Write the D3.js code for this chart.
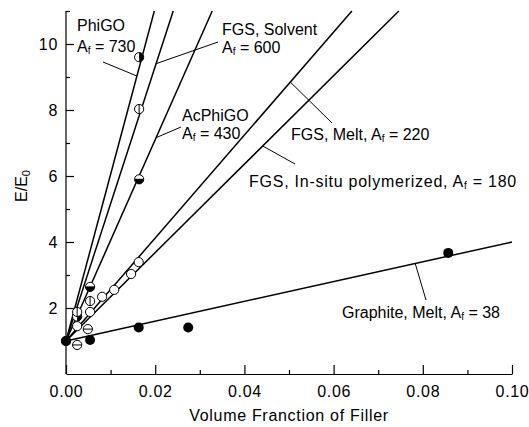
<!DOCTYPE html>
<html>
<head>
<meta charset="utf-8">
<script src="https://cdn.jsdelivr.net/npm/d3@7"></script>
<style>
  html, body { margin: 0; padding: 0; background: #fff; }
  svg { display: block; font-family: "Liberation Sans", Arial, Helvetica, sans-serif; }
  text { fill: #000; }
</style>
</head>
<body>
<svg id="chart" width="529" height="427"></svg>
<script>
// ---- data ----
const seriesNames = ["PhiGO", "FGS, Solvent", "AcPhiGO", "FGS, Melt", "FGS, In-situ polymerized", "Graphite, Melt"];
const slopes = [505, 416, 305, 156, 134, 30];           // E/E0 = 1 + slope * phi
const afValues = [730, 600, 430, 220, 180, 38];
const markerStyles = ["halfRight", "vline", "halfBottom", "open", "hline", "filled"];

const phiGOPts      = [[0.0025, 1.74], [0.0164, 9.6]];
const solventPts    = [[0.0025, 1.88], [0.0054, 2.21], [0.0164, 8.03]];
const acPhiGOPts    = [[0.0054, 2.64], [0.0164, 5.9]];
const meltPts       = [[0, 1], [0.0025, 1.45], [0.0054, 1.88], [0.0081, 2.34], [0.0108, 2.55], [0.0146, 3.03], [0.0163, 3.39]];
const inSituPts     = [[0.0025, 0.88], [0.0049, 1.36]];
const graphitePts   = [[0, 1], [0.0054, 1.03], [0.0163, 1.41], [0.0274, 1.41], [0.0857, 3.67]];
const pointSets = [phiGOPts, solventPts, acPhiGOPts, meltPts, inSituPts, graphitePts];

const xTicks = [0, 0.02, 0.04, 0.06, 0.08, 0.10];
const xMinor = [0.01, 0.03, 0.05, 0.07, 0.09];
const yTicks = [2, 4, 6, 8, 10];
const yMinor = [1, 3, 5, 7, 9, 11];

// ---- layout ----
const svg = d3.select("#chart");
const x = d3.scaleLinear().domain([0, 0.10]).range([66, 512]);
const y = d3.scaleLinear().domain([0, 11]).range([374, 11]);
const FS = 16;

// ---- axes ----
const gx = svg.append("g").attr("transform", `translate(0,${y(0)})`);
gx.call(d3.axisBottom(x).tickValues(xTicks).tickSizeInner(-9).tickSizeOuter(0).tickPadding(12).tickFormat(d3.format(".2f")));
gx.append("g").call(d3.axisBottom(x).tickValues(xMinor).tickSizeInner(-4).tickSizeOuter(0).tickFormat(""))
  .select(".domain").remove();

const gy = svg.append("g").attr("transform", `translate(${x(0)},0)`);
gy.call(d3.axisLeft(y).tickValues(yTicks).tickSizeInner(-8).tickSizeOuter(0).tickPadding(8).tickFormat(d3.format("d")));
gy.append("g").call(d3.axisLeft(y).tickValues(yMinor).tickSizeInner(-4).tickSizeOuter(0).tickFormat(""))
  .select(".domain").remove();
gy.select(".domain").attr("d", `M0,${y(11)}V${y(0)}`);

svg.selectAll(".domain, .tick line").attr("stroke", "#000").attr("stroke-width", 1.2);
svg.selectAll(".tick text").attr("font-size", FS).attr("font-family", null).attr("fill", "#000")
  .attr("letter-spacing", "0.7px");

// ---- axis titles ----
svg.append("text").attr("x", 289).attr("y", 421).attr("text-anchor", "middle").attr("font-size", FS)
  .attr("letter-spacing", "0.7px").text("Volume Franction of Filler");
const yt = svg.append("text").attr("transform", "translate(27,186) rotate(-90)").attr("text-anchor", "middle").attr("font-size", FS);
yt.append("tspan").text("E/E");
yt.append("tspan").attr("font-size", 11).attr("dy", 3).text("0");

// ---- fit lines ----
const lineG = svg.append("g");
slopes.forEach(k => {
  const xEnd = Math.min(0.10, (11 - 1) / k);
  lineG.append("line")
    .attr("x1", x(0)).attr("y1", y(1))
    .attr("x2", x(xEnd)).attr("y2", y(1 + k * xEnd))
    .attr("stroke", "#000").attr("stroke-width", 1.5);
});

// ---- markers ----
const R = 4.6;
const mg = svg.append("g");
pointSets.forEach((pts, i) => {
  const style = markerStyles[i];
  pts.forEach(p => {
    const cx = x(p[0]), cy = y(p[1]);
    const g = mg.append("g").attr("transform", `translate(${cx},${cy})`);
    if (style === "filled") {
      g.append("circle").attr("r", R + 0.4).attr("fill", "#000");
      return;
    }
    g.append("circle").attr("r", R).attr("fill", "#fff").attr("stroke", "#000").attr("stroke-width", 1);
    if (style === "halfRight") {
      g.append("path").attr("d", `M0,${-R}A${R},${R} 0 0 1 0,${R}Z`).attr("fill", "#000");
    } else if (style === "halfBottom") {
      g.append("path").attr("d", `M${-R},0A${R},${R} 0 0 0 ${R},0Z`).attr("fill", "#000");
      g.append("line").attr("x1", -R).attr("x2", R).attr("stroke", "#000");
    } else if (style === "vline") {
      g.append("line").attr("y1", -R).attr("y2", R).attr("stroke", "#000");
    } else if (style === "hline") {
      g.append("line").attr("x1", -R).attr("x2", R).attr("stroke", "#000");
    }
  });
});

// ---- annotations ----
function afText(parent, xx, yy, prefix, val, ls) {
  const t = parent.append("text").attr("x", xx).attr("y", yy).attr("font-size", FS);
  if (ls) t.attr("letter-spacing", ls);
  t.append("tspan").text(prefix + "A");
  t.append("tspan").attr("font-size", 10).attr("dy", 2).text("f");
  t.append("tspan").attr("dy", -2).text(" = " + val);
  return t;
}
const ag = svg.append("g");
function leader(phi, k, tx, ty) {
  ag.append("line").attr("x1", tx).attr("y1", ty)
    .attr("x2", x(phi)).attr("y2", y(1 + k * phi))
    .attr("stroke", "#000").attr("stroke-width", 1);
}
// PhiGO
ag.append("text").attr("x", 77).attr("y", 31).attr("font-size", FS).text(seriesNames[0]);
afText(ag, 77, 52, "", afValues[0]);
leader(0.0159, slopes[0], 103, 62);
// FGS, Solvent
ag.append("text").attr("x", 222).attr("y", 35).attr("font-size", FS).text(seriesNames[1]);
afText(ag, 222, 53, "", afValues[1]);
leader(0.0202, slopes[1], 218, 42);
// AcPhiGO
ag.append("text").attr("x", 182).attr("y", 121).attr("font-size", FS).text(seriesNames[2]);
afText(ag, 182, 139, "", afValues[2]);
leader(0.0202, slopes[2], 181, 127);
// FGS, Melt
afText(ag, 291, 140, seriesNames[3] + ", ", afValues[3]);
leader(0.0503, slopes[3], 332, 123);
// FGS, In-situ
afText(ag, 249, 187, seriesNames[4] + ", ", afValues[4], "0.75px");
leader(0.0441, slopes[4], 295, 164);
// Graphite
afText(ag, 342, 318, seriesNames[5] + ", ", afValues[5]);
leader(0.0783, slopes[5], 426, 300);
</script>
</body>
</html>
